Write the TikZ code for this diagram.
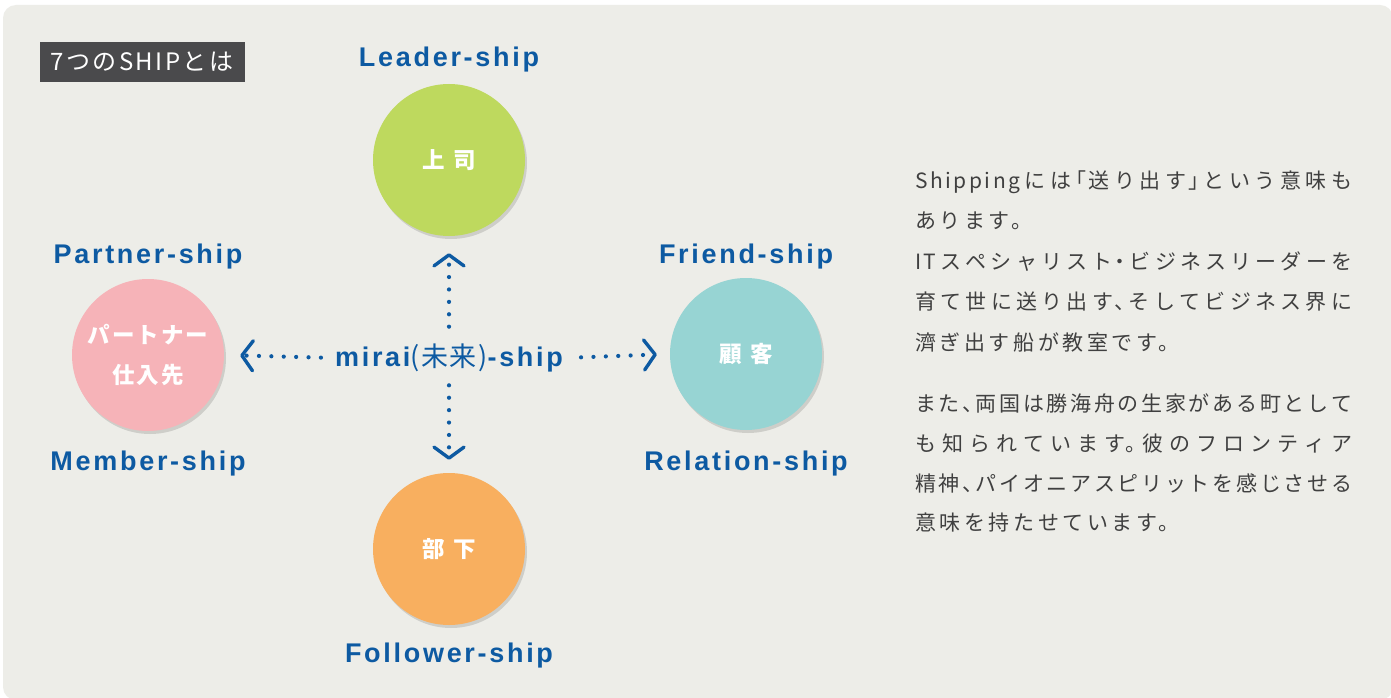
\documentclass[tikz,border=0pt]{standalone}
\usepackage{fontspec}
\setmainfont{Liberation Sans}
\newfontfamily\jp{Noto Sans CJK JP}
\newfontfamily\jpbody{Noto Sans CJK JP}[LetterSpace=12,RawFeature=+halt]
\newfontfamily\jpbodyN{Noto Sans CJK JP}[LetterSpace=17,RawFeature=+halt]
\newfontfamily\jptitle{Noto Sans CJK JP}[LetterSpace=10]
\newfontfamily\jpcirc{Noto Sans CJK JP}[LetterSpace=9]
\newfontfamily\lbl{Liberation Sans}[LetterSpace=10]
\newfontfamily\lbljp{Noto Sans CJK JP}[LetterSpace=6]
\XeTeXlinebreaklocale "ja"
\XeTeXlinebreakskip=0pt plus 6pt
\usetikzlibrary{arrows.meta,shadows}
\definecolor{panel}{HTML}{EDEDE8}
\definecolor{titlebg}{HTML}{4A4A4C}
\definecolor{cblue}{HTML}{0D5AA2}
\definecolor{cgreen}{HTML}{BED95E}
\definecolor{cpink}{HTML}{F6B3B8}
\definecolor{cteal}{HTML}{97D4D3}
\definecolor{corange}{HTML}{F8AF5F}
\definecolor{body}{HTML}{404040}
\newcommand{\jline}[1]{\parbox{437pt}{\parfillskip=0pt\relax\XeTeXlinebreaklocale "ja"\XeTeXlinebreakskip=0pt plus 6pt\relax #1}}
\tikzset{
  circ/.style={circle, minimum size=152pt, inner sep=0pt, text=white, align=center,
    font=\jpcirc\bfseries\fontsize{22.5}{38}\selectfont,
    drop shadow={shadow xshift=2pt, shadow yshift=-3pt, opacity=0.13, fill=black}},
  lab/.style={text=cblue, inner sep=0pt, font=\lbl\bfseries\fontsize{27}{30}\selectfont},
  bodytext/.style={anchor=west, inner sep=0pt, text=body, font=\jpbody\fontsize{21}{24}\selectfont},
  bodylast/.style={bodytext, font=\jpbodyN\fontsize{21}{24}\selectfont},
  dotarrow/.style={cblue, line width=4.2pt, line cap=round, dash pattern=on 0pt off 12.4pt,
    -{Straight Barb[length=11pt,width=30pt,line width=3.4pt,round]}}
}
\begin{document}
\begin{tikzpicture}[x=1pt,y=-1pt]
\useasboundingbox (0,0) rectangle (1391,698);
\fill[white] (0,0) rectangle (1391,698);
\fill[panel, rounded corners=13pt] (3,5) rectangle (1393,700);
% title
\fill[titlebg] (40,42) rectangle (245,82);
\node[text=white, inner sep=0pt, font=\jptitle\fontsize{24}{26}\selectfont] (title) at (142,62) {7つのSHIPとは};
% circles
\node[circ, fill=cgreen] (boss) at (449,160) {上\hspace{0.4em}司};
\node[circ, fill=cpink] (partner) at (148,355) {パートナー\\[2pt]仕入先};
\node[circ, fill=cteal] (client) at (746,354) {顧\hspace{0.4em}客};
\node[circ, fill=corange] (sub) at (449,549) {部\hspace{0.4em}下};
% labels
\node[lab] (leader) at (449,60) {Leader-ship};
\node[lab] (partnership) at (148,257) {Partner-ship};
\node[lab] (friend) at (746,257) {Friend-ship};
\node[lab] (member) at (148,464) {Member-ship};
\node[lab] (relation) at (746,464) {Relation-ship};
\node[lab] (follower) at (449,656) {Follower-ship};
\node[lab] (mirai) at (449,358) {mirai{\lbljp\mdseries (未来)}-ship};
% arrows
\draw[dotarrow, shorten <=17pt, shorten >=17pt] (mirai.north) -- (boss.south);
\draw[dotarrow, shorten <=13pt, shorten >=13pt] (mirai.south) -- (sub.north);
\draw[dotarrow, shorten <=14pt, shorten >=16pt] (mirai.west) -- (partner.east);
\draw[dotarrow, shorten <=18pt, shorten >=13pt] (mirai.east) -- (client.west);
% body text
\node[bodytext] (t1) at (915,182) {\jline{Shippingには「送り出す」という意味も}};
\node[bodylast] (t2) at (915,221) {あります。};
\node[bodytext] (t3) at (915,262) {\jline{ITスペシャリスト・ビジネスリーダーを}};
\node[bodytext] (t4) at (915,302) {\jline{育て世に送り出す、そしてビジネス界に}};
\node[bodylast] (t5) at (915,342) {濟ぎ出す船が教室です。};
\node[bodytext] (t6) at (915,403) {\jline{また、両国は勝海舟の生家がある町として}};
\node[bodytext] (t7) at (915,443) {\jline{も知られています。彼のフロンティア}};
\node[bodytext] (t8) at (915,483) {\jline{精神、パイオニアスピリットを感じさせる}};
\node[bodylast] (t9) at (915,523) {意味を持たせています。};
\end{tikzpicture}
\end{document}
